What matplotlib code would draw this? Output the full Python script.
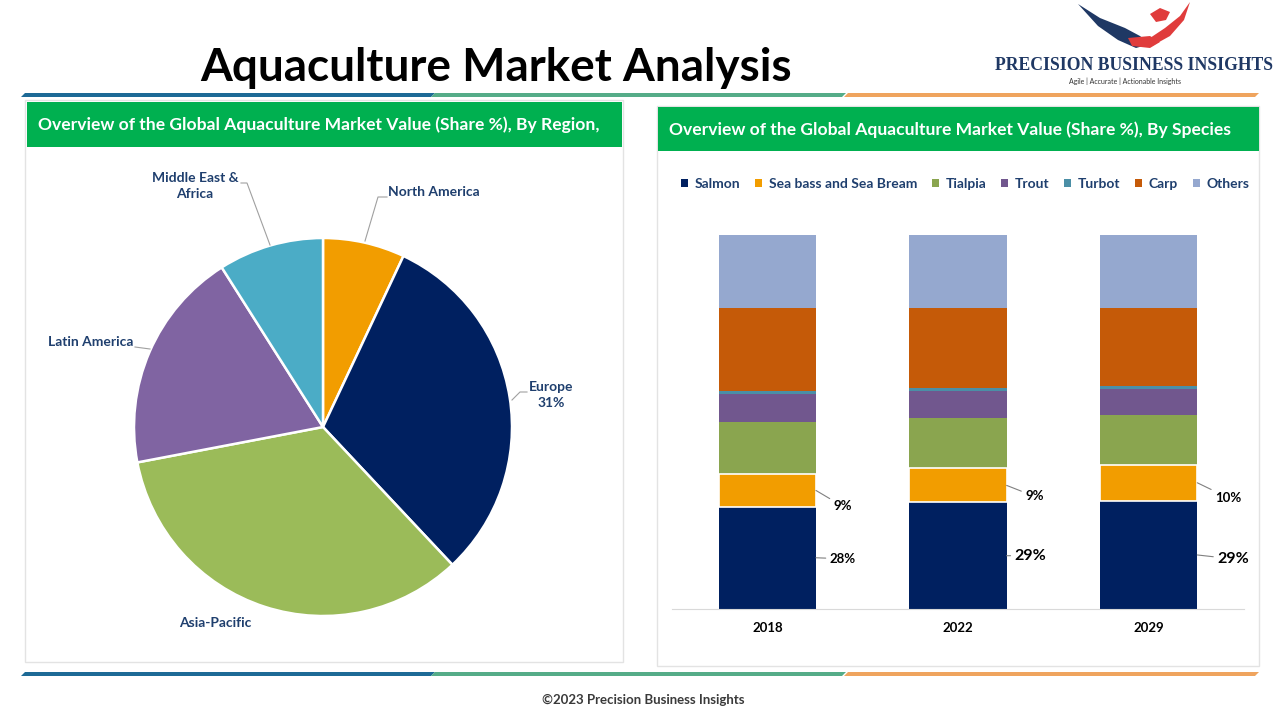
import matplotlib
matplotlib.use("Agg")
import matplotlib.pyplot as plt
from matplotlib.patches import Rectangle, Polygon, Patch
import numpy as np

# ---------------- data ----------------
regions = ["North America", "Europe", "Asia-Pacific", "Latin America", "Middle East &\nAfrica"]
region_share = [7, 31, 34, 19, 9]
region_colors = ["#F29D00", "#002060", "#9BBB59", "#8064A2", "#4BACC6"]

years = ["2018", "2022", "2029"]
species = ["Salmon", "Sea bass and Sea Bream", "Tialpia", "Trout", "Turbot", "Carp", "Others"]
salmon = [27.4, 28.5, 28.9]
seabass = [8.6, 9.1, 9.7]
tilapia = [14.0, 13.6, 13.4]
trout = [7.5, 7.0, 6.8]
turbot = [0.7, 0.8, 0.8]
carp = [22.2, 21.5, 21.0]
others = [19.6, 19.5, 19.4]
salmon_labels = ["28%", "29%", "29%"]
seabass_labels = ["9%", "9%", "10%"]
species_colors = ["#002060", "#F29D00", "#8AA54F", "#71578E", "#4B8FA6", "#C55A08", "#95A8CF"]

W, H = 1280, 720
fig = plt.figure(figsize=(12.8, 7.2), dpi=100)
fig.patch.set_facecolor("white")

FONT = "Lato"
NAVY_TXT = "#1F3F6E"


def fx(px):
    return px / W


def fy(py):
    return 1 - py / H


def poly(points, color, z=1):
    fig.patches.append(Polygon([(fx(x), fy(y)) for x, y in points], closed=True,
                               transform=fig.transFigure, facecolor=color,
                               edgecolor="none", zorder=z))


def rect(x0, y0, x1, y1, fc, ec="none", lw=0, z=1):
    fig.patches.append(Rectangle((fx(x0), fy(y1)), fx(x1) - fx(x0), fy(y0) - fy(y1),
                                 transform=fig.transFigure, facecolor=fc,
                                 edgecolor=ec, linewidth=lw, zorder=z))


def stripes(ytop):
    segs = [(22, 432, "#1D6A96"), (432, 843, "#55AC88"), (845, 1256, "#EFA45E")]
    for x0, x1, c in segs:
        poly([(x0 + 3, ytop), (x1 + 3, ytop), (x1 - 1, ytop + 4), (x0 - 1, ytop + 4)], c, z=2)


# ---------------- title & logo ----------------
fig.text(fx(496), fy(68), "Aquaculture Market Analysis", ha="center", va="center",
         fontsize=33, fontweight="bold", family=FONT, color="black")

# simple eagle mark
poly([(1078, 4), (1100, 18), (1125, 28), (1140, 36), (1150, 44), (1136, 48),
      (1118, 40), (1098, 26)], "#1F3864", z=3)
poly([(1190, 2), (1180, 16), (1165, 28), (1150, 38), (1142, 46), (1152, 46),
      (1170, 36), (1184, 20)], "#E03C3C", z=3)
poly([(1150, 14), (1160, 8), (1170, 12), (1166, 20), (1156, 22)], "#E03C3C", z=3)
poly([(1128, 38), (1150, 36), (1160, 42), (1150, 48), (1132, 46)], "#E03C3C", z=3)

fig.text(fx(1134), fy(66), "PRECISION BUSINESS INSIGHTS", ha="center", va="center",
         fontsize=12.7, fontweight="bold", family="Liberation Serif", color="#1F3864")
fig.text(fx(1125), fy(81), "Agile | Accurate | Actionable Insights", ha="center", va="center",
         fontsize=5, family=FONT, color="#333333")

stripes(93)
stripes(672)

fig.text(fx(643), fy(700), "\u00a92023 Precision Business Insights", ha="center", va="center",
         fontsize=9.5, fontweight="bold", family=FONT, color="#3A3A3A")

# ---------------- panels ----------------
rect(25, 100, 623, 662, "white", ec="#E3E3E3", lw=1.0, z=0)
rect(27, 102, 622, 147, "#00B050", z=1)
fig.text(fx(38), fy(125), "Overview of the Global Aquaculture Market Value (Share %), By Region,",
         ha="left", va="center", fontsize=12.6, fontweight="bold", family=FONT, color="white")

rect(657, 106, 1259, 666, "white", ec="#E3E3E3", lw=1.0, z=0)
rect(658, 107, 1259, 151, "#00B050", z=1)
fig.text(fx(669), fy(130), "Overview of the Global Aquaculture Market Value (Share %), By Species",
         ha="left", va="center", fontsize=12.6, fontweight="bold", family=FONT, color="white")

# ---------------- pie ----------------
cx, cy, r = 323, 427, 189
axp = fig.add_axes([fx(cx - r), fy(cy + r), 2 * r / W, 2 * r / H])
axp.set_zorder(5)
axp.patch.set_alpha(0)
wedges, _ = axp.pie(region_share, colors=region_colors, startangle=90, counterclock=False,
                    radius=1.0, wedgeprops=dict(edgecolor="white", linewidth=1.8))
axp.set_xlim(-1, 1)
axp.set_ylim(-1, 1)
axp.set_aspect("equal")
axp.axis("off")


def d(px, py):
    return ((px - cx) / r, (cy - py) / r)


lbl_kw = dict(fontsize=10, fontweight="bold", family=FONT, color=NAVY_TXT)
LEAD = "#A0A0A0"
# North America
axp.annotate(regions[0], xy=d(365, 243), xytext=d(388, 192), ha="left", va="center",
             annotation_clip=False, **lbl_kw)
axp.plot(*zip(d(365, 241), d(378, 197), d(387, 197)), color=LEAD, lw=0.8, clip_on=False)
# Europe
axp.annotate(regions[1] + "\n31%", xy=d(512, 400), xytext=d(551, 395), ha="center",
             va="center", annotation_clip=False, linespacing=1.35, **lbl_kw)
axp.plot(*zip(d(512, 400), d(520, 392), d(527, 392)), color=LEAD, lw=0.8, clip_on=False)
# Asia-Pacific
axp.annotate(regions[2], xy=d(215, 610), xytext=d(215, 623), ha="center", va="center",
             annotation_clip=False, **lbl_kw)
# Latin America
axp.annotate(regions[3], xy=d(150, 348), xytext=d(91, 342), ha="center", va="center",
             annotation_clip=False, **lbl_kw)
axp.plot(*zip(d(135, 347), d(150, 349)), color=LEAD, lw=0.8, clip_on=False)
# Middle East & Africa
axp.annotate(regions[4], xy=d(270, 245), xytext=d(195, 186), ha="center", va="center",
             annotation_clip=False, linespacing=1.4, **lbl_kw)
axp.plot(*zip(d(241, 183), d(247, 183), d(270, 245)), color=LEAD, lw=0.8, clip_on=False)

# ---------------- stacked bars ----------------
axb = fig.add_axes([fx(672), fy(609), (1244 - 672) / W, (609 - 235) / H])
axb.set_zorder(5)
axb.patch.set_alpha(0)
series = [salmon, seabass, tilapia, trout, turbot, carp, others]
x = np.arange(len(years))
bottom = np.zeros(len(years))
for name, vals, col in zip(species, series, species_colors):
    vals = np.array(vals, dtype=float)
    if name.startswith("Sea bass"):
        axb.bar(x, vals, 0.51, bottom=bottom, color=col, edgecolor="white", linewidth=1.2,
                zorder=3)
    else:
        axb.bar(x, vals, 0.51, bottom=bottom, color=col, edgecolor="none", zorder=2)
    bottom += vals

axb.set_xlim(-0.5, 2.5)
axb.set_ylim(0, 100)
for s in ["top", "right", "left"]:
    axb.spines[s].set_visible(False)
axb.spines["bottom"].set_color("#D9D9D9")
axb.set_yticks([])
axb.set_xticks(x)
axb.set_xticklabels(years, fontsize=9.5, fontweight="bold", family=FONT)
axb.tick_params(axis="x", length=0, pad=9)

# labels with leader lines (offsets in pixels)
PX = 0.72
salmon_off = [(27, 1), (24, 0), (36, 4)]
salmon_fs = [9.5, 11.5, 11.5]
seabass_off = [(27, -16), (28, -11), (31, -15)]
for i in range(len(years)):
    right = x[i] + 0.255
    m = salmon[i] / 2
    axb.annotate(salmon_labels[i], xy=(right, m),
                 xytext=(salmon_off[i][0] * PX, -salmon_off[i][1] * PX),
                 textcoords="offset points", ha="center", va="center",
                 fontsize=salmon_fs[i], fontweight="bold", family=FONT, color="black",
                 arrowprops=dict(arrowstyle="-", color="#808080", lw=0.8,
                                 shrinkA=1, shrinkB=0))
    m2 = salmon[i] + seabass[i] / 2
    axb.annotate(seabass_labels[i], xy=(right, m2),
                 xytext=(seabass_off[i][0] * PX, seabass_off[i][1] * PX),
                 textcoords="offset points", ha="center", va="center",
                 fontsize=9.5, fontweight="bold", family=FONT, color="black",
                 arrowprops=dict(arrowstyle="-", color="#808080", lw=0.8,
                                 shrinkA=1, shrinkB=0))

handles = [Patch(facecolor=c, edgecolor="none") for c in species_colors]
leg = fig.legend(handles, species, loc="center", bbox_to_anchor=(fx(965), fy(184)),
                 ncol=7, frameon=False, handlelength=0.55, handleheight=0.55,
                 handletextpad=0.45, columnspacing=1.05,
                 prop=dict(family=FONT, weight="bold", size=10))
leg.set_zorder(6)
for t in leg.get_texts():
    t.set_color(NAVY_TXT)

fig.savefig("out.png", dpi=100, facecolor="white")
